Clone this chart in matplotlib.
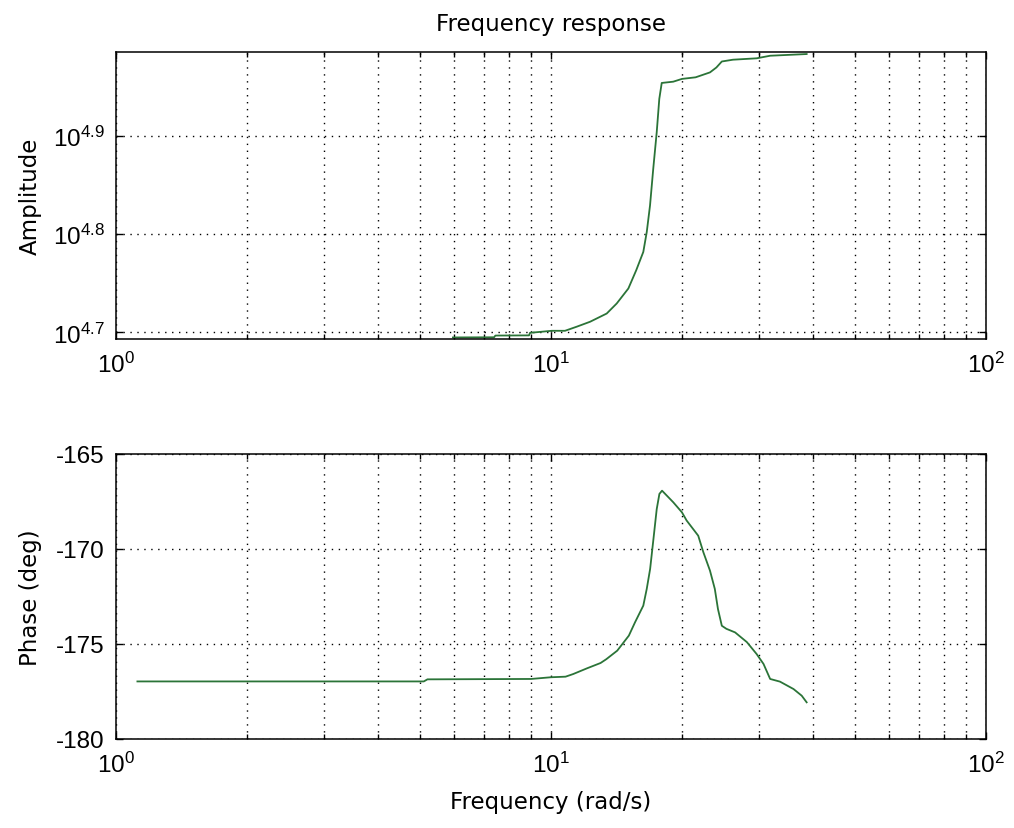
import numpy as np
import matplotlib
matplotlib.use("Agg")
import matplotlib.pyplot as plt
from matplotlib.ticker import FixedLocator, NullLocator, LogLocator, FixedFormatter

plt.rcParams['font.family'] = ['DejaVu Sans']
plt.rcParams['mathtext.fontset'] = 'custom'
plt.rcParams['mathtext.rm'] = 'Liberation Sans'
plt.rcParams['mathtext.it'] = 'Liberation Sans'
plt.rcParams['mathtext.bf'] = 'Liberation Sans'
plt.rcParams['axes.unicode_minus'] = False

# Measured magnitude response (rad/s, linear amplitude)
amp_freq = [5.95, 7.40, 7.45, 8.90, 8.95, 10.04, 10.77, 11.45, 12.3, 13.43, 14.16,
            15.06, 15.7, 16.3, 16.6, 16.89, 17.18, 17.5, 17.74, 17.97, 19.1,
            20.0, 21.5, 23.2, 24.0, 24.7, 26.2, 29.7, 31.9, 38.7]
amp_vals = [49520, 49540, 49740, 49760, 50060, 50300, 50300, 50780, 51380, 52380, 53630,
            55550, 57980, 60530, 63420, 67500, 73560, 80170, 86700, 90000, 90270,
            90860, 91200, 92260, 93330, 94650, 95050, 95360, 95940, 96320]

# Measured phase response (rad/s, degrees)
ph_freq = [1.12, 5.10, 5.20, 9.0, 10.0, 10.8, 11.25, 12.1, 13.0, 13.4, 14.2,
           15.1, 15.6, 16.3, 16.6, 16.9, 17.2, 17.5, 17.75, 18.0, 19.1,
           20.0, 20.5, 21.8, 22.4, 23.2, 23.8, 24.2, 24.7, 25.3, 26.5,
           28.2, 29.7, 30.8, 31.9, 33.6, 36.1, 37.7, 38.7]
ph_vals = [-176.97, -176.97, -176.86, -176.84, -176.75, -176.72, -176.58, -176.28, -176.0, -175.8, -175.35,
           -174.56, -173.86, -172.98, -172.1, -171.05, -169.47, -167.9, -167.1, -166.93, -167.54,
           -168.07, -168.5, -169.3, -170.17, -171.14, -172.1, -173.16, -174.04, -174.2, -174.39,
           -174.9, -175.53, -176.05, -176.84, -176.98, -177.37, -177.72, -178.07]

x_ticks = [1, 10, 100]
x_ticklabels = [r'$10^{0}$', r'$10^{1}$', r'$10^{2}$']
amp_ticks = [10**4.7, 10**4.8, 10**4.9]
amp_ticklabels = [r'$10^{4.7}$', r'$10^{4.8}$', r'$10^{4.9}$']
ph_ticks = [-180, -175, -170, -165]
ph_ticklabels = ['-180', '-175', '-170', '-165']

line_color = '#2b7438'
label_fs = 16.5
tick_fs = 17.5
tick_family = ['Liberation Sans', 'DejaVu Sans']

fig = plt.figure(figsize=(10.14, 8.29), dpi=100)
fig.patch.set_facecolor('white')
W, H = 1014, 829
ax1 = fig.add_axes([116 / W, 1 - 340 / H, 870 / W, 287 / H])
ax2 = fig.add_axes([116 / W, 1 - 740 / H, 870 / W, 285 / H])

grid_kw = dict(color='black', linestyle=(0, (1, 4)), linewidth=1.0)

for ax in (ax1, ax2):
    ax.set_xscale('log')
    ax.set_xlim(1, 100)
    ax.xaxis.set_major_locator(FixedLocator(x_ticks))
    ax.xaxis.set_major_formatter(FixedFormatter(x_ticklabels))
    ax.xaxis.set_minor_locator(LogLocator(base=10, subs=np.arange(2, 10)))
    ax.xaxis.set_minor_formatter(plt.NullFormatter())
    ax.tick_params(which='both', direction='in', top=True, right=True,
                   labelsize=tick_fs, colors='black')
    ax.tick_params(which='major', length=5, width=1.0)
    ax.tick_params(which='minor', length=3.5, width=1.0)
    ax.tick_params(axis='x', which='major', pad=9)
    ax.tick_params(axis='y', which='major', pad=8)
    ax.grid(True, which='major', axis='both', **grid_kw)
    ax.grid(True, which='minor', axis='x', **grid_kw)
    for sp in ax.spines.values():
        sp.set_linewidth(1.1)
        sp.set_color('black')

# Amplitude
ax1.plot(amp_freq, amp_vals, color=line_color, linewidth=1.3)
ax1.set_yscale('log')
ax1.set_ylim(10**4.6932, 10**4.9858)
ax1.yaxis.set_major_locator(FixedLocator(amp_ticks))
ax1.yaxis.set_major_formatter(FixedFormatter(amp_ticklabels))
ax1.yaxis.set_minor_locator(NullLocator())
ax1.set_ylabel('Amplitude', fontsize=label_fs)
ax1.yaxis.set_label_coords(-0.085, 0.5)
ax1.set_title('Frequency response', fontsize=label_fs, pad=16)

# Phase
ax2.plot(ph_freq, ph_vals, color=line_color, linewidth=1.3)
ax2.set_ylim(-180, -165)
ax2.yaxis.set_major_locator(FixedLocator(ph_ticks))
ax2.yaxis.set_major_formatter(FixedFormatter(ph_ticklabels))
ax2.yaxis.set_minor_locator(NullLocator())
ax2.set_ylabel('Phase (deg)', fontsize=label_fs)
ax2.yaxis.set_label_coords(-0.085, 0.5)
ax2.set_xlabel('Frequency (rad/s)', fontsize=label_fs)
ax2.xaxis.set_label_coords(0.5, -0.18)

for ax in (ax1, ax2):
    for lbl in ax.get_xticklabels() + ax.get_yticklabels():
        lbl.set_family(tick_family)

fig.savefig('out.png', dpi=100, facecolor='white')
